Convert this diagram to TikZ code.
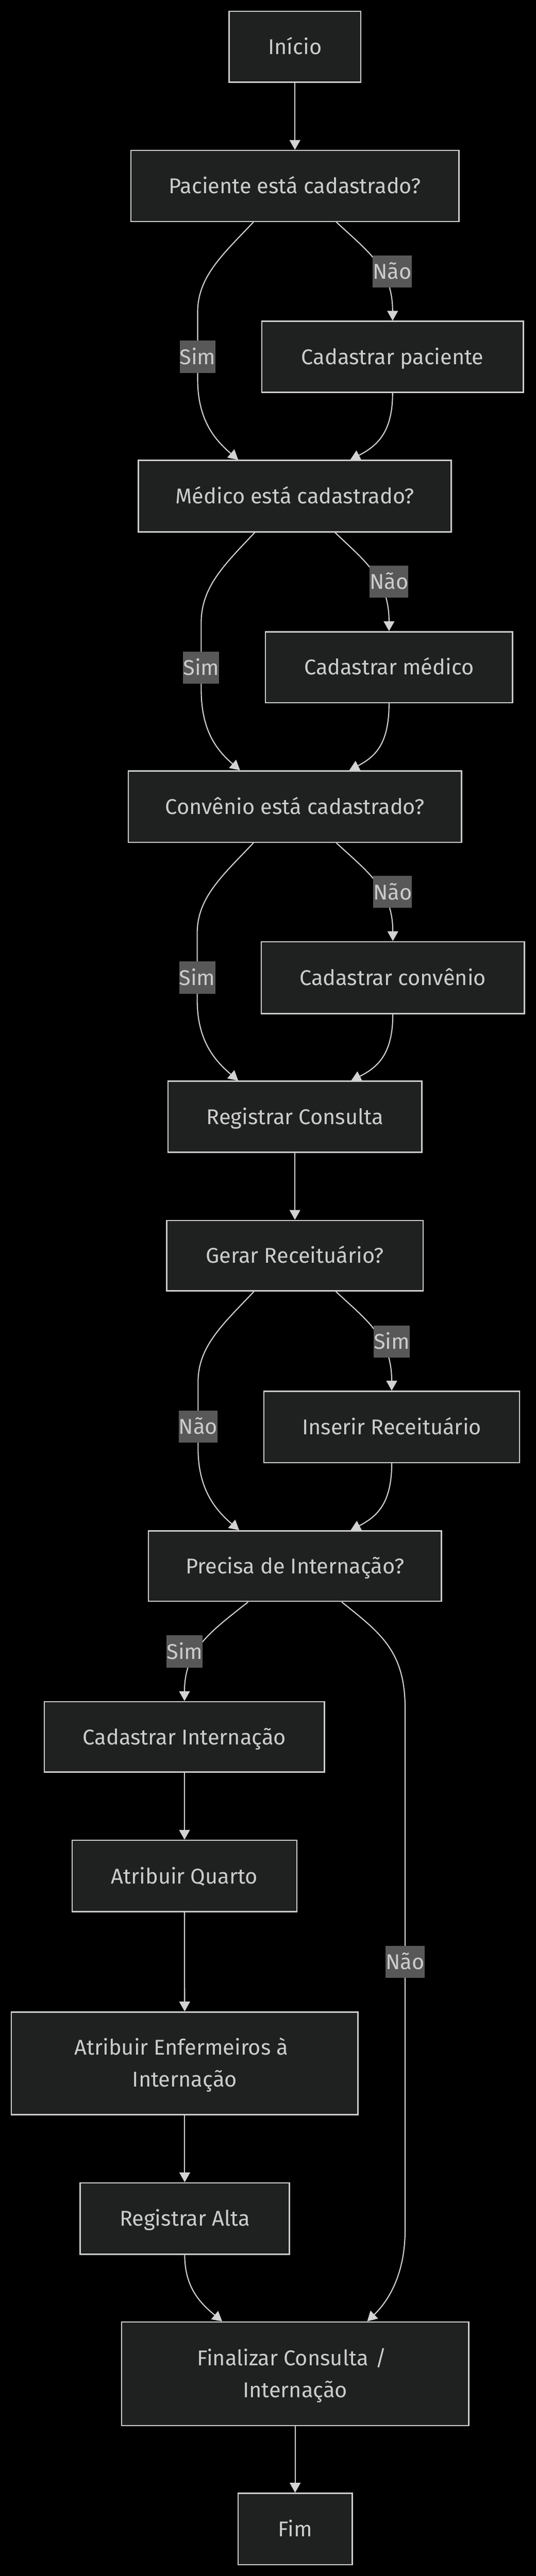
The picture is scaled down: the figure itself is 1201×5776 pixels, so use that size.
\documentclass[tikz,border=0pt]{standalone}
\usepackage{fontspec}
\setmainfont{Fira Sans}
\usetikzlibrary{arrows.meta,calc}
\definecolor{bgcol}{HTML}{000000}
\definecolor{nodefill}{HTML}{1F2020}
\definecolor{nodeborder}{HTML}{CCCCCC}
\definecolor{txtcol}{HTML}{CCCCCC}
\definecolor{edgecol}{HTML}{D3D3D3}
\definecolor{lblbg}{HTML}{585858}
\newcommand\mstrut{\rule[-19pt]{0pt}{72pt}}
\begin{document}
\begin{tikzpicture}[x=1pt,y=-1pt,
  box/.style={draw=nodeborder,line width=3pt,fill=nodefill,text=txtcol,inner sep=0pt,align=center,font=\fontsize{48}{72}\selectfont},
  lbl/.style={fill=lblbg,text=txtcol,inner sep=0pt,font=\fontsize{48}{72}\selectfont},
  edge/.style={draw=edgecol,line width=2.4pt,-{Triangle[width=24pt,length=22pt]}}]
\fill[bgcol] (0,0) rectangle (1201,5776);
\useasboundingbox (0,0) rectangle (1201,5776);

% nodes
\node[box,minimum width=295pt,minimum height=159pt] (inicio) at (661,105) {Início\mstrut};
\node[box,minimum width=735pt,minimum height=159pt] (pac) at (661,417) {Paciente está cadastrado?\mstrut};
\node[box,minimum width=586pt,minimum height=159pt] (cadpac) at (880,800) {Cadastrar paciente\mstrut};
\node[box,minimum width=701pt,minimum height=160pt] (med) at (661,1112.5) {Médico está cadastrado?\mstrut};
\node[box,minimum width=554pt,minimum height=159pt] (cadmed) at (872,1496) {Cadastrar médico\mstrut};
\node[box,minimum width=747pt,minimum height=160pt] (conv) at (661,1808.5) {Convênio está cadastrado?\mstrut};
\node[box,minimum width=590pt,minimum height=161pt] (cadconv) at (880.5,2192) {Cadastrar convênio\mstrut};
\node[box,minimum width=569pt,minimum height=159pt] (reg) at (661,2504) {Registrar Consulta\mstrut};
\node[box,minimum width=575pt,minimum height=158pt] (ger) at (661,2815.5) {Gerar Receituário?\mstrut};
\node[box,minimum width=573pt,minimum height=160pt] (ins) at (878,3199.5) {Inserir Receituário\mstrut};
\node[box,minimum width=657pt,minimum height=158pt] (prec) at (661,3511.5) {Precisa de Internação?\mstrut};
\node[box,minimum width=628pt,minimum height=158pt] (cadint) at (413.5,3894.5) {Cadastrar Internação\mstrut};
\node[box,minimum width=504pt,minimum height=160pt] (quarto) at (413.5,4206.5) {Atribuir Quarto\mstrut};
\node[box,minimum width=777pt,minimum height=230pt] (enf) at (414,4626.5) {Atribuir Enfermeiros à\kern15pt\mstrut\\Internação\mstrut};
\node[box,minimum width=469pt,minimum height=160pt] (alta) at (414,4974.5) {Registrar Alta\mstrut};
\node[box,minimum width=778pt,minimum height=232pt] (fin) at (661.5,5322.5) {Finalizar Consulta\hspace{16pt}/\kern15pt\mstrut\\Internação\mstrut};
\node[box,minimum width=256pt,minimum height=160pt] (fim) at (661.5,5670.5) {Fim\mstrut};

% edges
\draw[edge] (inicio) -- (pac);

% block 1
\draw[edge] ([xshift=-93pt]pac.south) .. controls (500,570) and (443,620) .. (443,700) -- (443,850) .. controls (443,940) and (480,985) .. ([xshift=-127pt]med.north);
\draw[edge] ([xshift=93pt]pac.south) .. controls (820,560) and (880,600) .. (cadpac.north);
\draw[edge] (cadpac.south) .. controls (880,970) and (845,1000) .. ([xshift=124pt]med.north);

% block 2
\draw[edge] ([xshift=-90pt]med.south) .. controls (503,1266) and (451,1316) .. (451,1396) -- (451,1546) .. controls (451,1636) and (484,1681) .. ([xshift=-123pt]conv.north);
\draw[edge] ([xshift=90pt]med.south) .. controls (815,1256) and (872,1296) .. (cadmed.north);
\draw[edge] (cadmed.south) .. controls (872,1666) and (843,1696) .. ([xshift=122pt]conv.north);

% block 3
\draw[edge] ([xshift=-93pt]conv.south) .. controls (500,1962) and (442,2012) .. (442,2092) -- (442,2242) .. controls (442,2332) and (480,2377) .. ([xshift=-127pt]reg.north);
\draw[edge] ([xshift=93pt]conv.south) .. controls (820,1952) and (880.5,1992) .. (cadconv.north);
\draw[edge] (cadconv.south) .. controls (880.5,2363) and (847,2393) .. ([xshift=126pt]reg.north);

\draw[edge] (reg) -- (ger);

% block 4
\draw[edge] ([xshift=-92pt]ger.south) .. controls (501,2968) and (444,3018) .. (444,3098) -- (444,3248) .. controls (444,3338) and (482,3385) .. ([xshift=-125pt]prec.north);
\draw[edge] ([xshift=92pt]ger.south) .. controls (819,2958) and (878,2998) .. (ins.north);
\draw[edge] (ins.south) .. controls (878,3370) and (846,3400) .. ([xshift=125pt]prec.north);

% internacao
\draw[edge] ([xshift=-105pt]prec.south) .. controls (470,3660) and (413.5,3700) .. (cadint.north);
\draw[edge] ([xshift=105pt]prec.south) .. controls (850,3660) and (908,3700) .. (908,3830) -- (908,5000) .. controls (908,5100) and (870,5160) .. ([xshift=161.5pt]fin.north);
\draw[edge] (cadint) -- (quarto);
\draw[edge] (quarto) -- (enf);
\draw[edge] (enf) -- (alta);
\draw[edge] (alta.south) .. controls (414,5130) and (450,5165) .. ([xshift=-163.5pt]fin.north);
\draw[edge] (fin) -- (fim);

% labels
\node[lbl] (l1s) at (443,800) {Sim\mstrut};
\node[lbl] (l1n) at (879,609) {Não\mstrut};
\node[lbl] (l2s) at (451,1497) {Sim\mstrut};
\node[lbl] (l2n) at (872,1304) {Não\mstrut};
\node[lbl] (l3s) at (442,2192) {Sim\mstrut};
\node[lbl] (l3n) at (880,2000) {Não\mstrut};
\node[lbl] (l4n) at (444,3199) {Não\mstrut};
\node[lbl] (l4s) at (878,3008) {Sim\mstrut};
\node[lbl] (l5s) at (414,3703) {Sim\mstrut};
\node[lbl] (l5n) at (908,4399) {Não\mstrut};
\end{tikzpicture}
\end{document}
